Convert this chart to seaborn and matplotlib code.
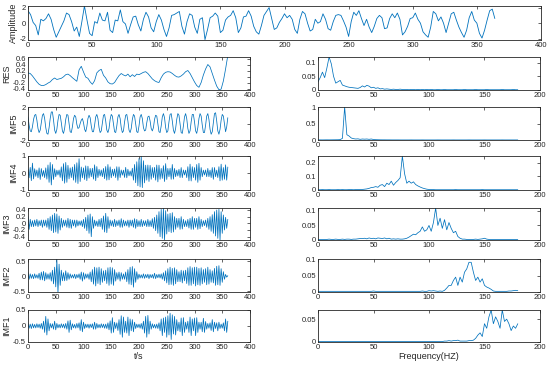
import numpy as np
import seaborn as sns
import matplotlib
matplotlib.use("Agg")
import matplotlib.pyplot as plt
from matplotlib.ticker import FuncFormatter

# ---- data ----
# raw signal, one sample every 2 s
amplitude = [
    1.6, 1.1, 0.1, -0.3, -1.5, 0.5, 0.3, 0.6, 1.2, 0.5,
    -0.8, -1.8, -1.1, -0.4, 0.3, 1.3, 1.1, 0.2, -1.0, -0.5,
    -1.7, 0.2, 2.2, 0.4, -1.3, -1.6, 0.2, 0.0, 1.3, 0.4,
    0.3, 1.4, -0.9, -1.2, 0.4, 0.3, 1.7, 0.2, -0.1, -1.3,
    -0.2, 0.8, 0.9, -0.2, -1.0, 0.5, 1.4, 0.8, -0.6, -1.1,
    0.2, 1.1, 0.4, -0.8, -1.7, -0.6, 1.0, 1.1, 1.3, 1.5,
    -0.4, -1.4, 0.2, 1.2, 1.0, -0.5, -1.3, 0.5, 0.7, -2.1,
    -0.8, 0.7, 0.9, 1.3, 0.9, -1.2, -0.9, 0.4, 0.8, 1.0,
    1.6, 0.7, -1.2, -0.6, 0.8, 0.9, 1.6, 0.9, -0.4, -1.1,
    -1.4, -0.3, 1.0, 1.5, 2.0, 0.6, -0.8, -0.6, 0.1, 0.6,
    1.2, 0.7, 1.0, 0.5, -0.8, -1.3, 0.5, 1.5, 1.2, 0.0,
    -1.0, -0.8, 0.5, 0.0, 0.2, 1.2, 0.5, -0.7, -0.9, 0.2,
    1.0, 1.1, 1.0, 0.3, -0.5, -1.7, 0.2, 1.4, 1.0, 1.6,
    0.6, -0.3, 0.5, -0.5, -1.2, -0.4, 0.6, 1.0, 0.7, -0.7,
    -0.6, 0.6, 1.2, 0.7, 1.3, 0.5, -1.5, -1.1, -0.4, 0.6,
    0.7, 1.3, 0.5, 0.0, -1.1, -1.5, -1.8, -0.5, 1.5, 1.2,
    0.3, 0.8, 0.0, -1.2, 0.0, 1.2, 1.4, 0.4, -0.5, -1.2,
    -1.8, -0.9, 0.7, 1.5, 0.4, 0.0, -1.3, -1.9, -0.9, 0.4,
    1.6, 1.8, 0.6,
]

# residual, one sample every 4 s
res = [
    0.12, 0.10, 0.02, -0.08, -0.18, -0.26, -0.30, -0.30, -0.27, -0.22,
    -0.18, -0.10, -0.05, -0.10, -0.08, -0.06, -0.01, 0.06, 0.08, 0.03,
    -0.04, -0.10, -0.16, 0.22, 0.34, 0.15, -0.02, -0.06, -0.18, -0.26,
    -0.14, 0.12, 0.20, 0.24, 0.04, -0.05, -0.18, -0.24, -0.25, -0.20,
    -0.08, 0.03, 0.10, 0.05, 0.02, 0.08, -0.01, 0.06, 0.00, 0.08,
    0.06, 0.10, 0.14, 0.16, 0.10, 0.01, -0.08, -0.14, -0.18, -0.20,
    -0.04, 0.08, 0.14, 0.16, 0.15, 0.10, 0.04, -0.01, -0.02, 0.02,
    0.08, 0.16, 0.20, 0.10, -0.04, -0.18, -0.30, -0.36, -0.20, 0.05,
    0.25, 0.40, 0.32, 0.10, -0.12, -0.32, -0.44, -0.42, -0.15, 0.25,
    0.70,
]

# IMFs, one sample every 2 s
imf5 = [
    0.8, -0.2, -0.9, -1.0, -0.4, 0.5, 1.0, 1.1, 0.4, -0.6,
    -1.1, -0.8, 0.1, 1.0, 1.2, 0.6, -0.5, -1.2, -1.3, -0.5,
    0.6, 1.4, 1.4, 0.4, -0.8, -1.2, -0.7, 0.4, 1.1, 1.0,
    0.1, -0.9, -1.2, -0.6, 0.5, 1.1, 1.0, 0.0, -1.0, -1.1,
    -0.4, 0.6, 1.0, 0.8, -0.1, -0.6, -0.5, 0.0, 0.4, 0.6,
    0.1, -0.7, -1.0, -0.4, 0.6, 1.0, 0.7, -0.3, -1.0, -1.0,
    -0.2, 0.8, 1.1, 0.6, -0.5, -1.1, -0.9, 0.1, 1.0, 1.1,
    0.3, -0.8, -1.1, -0.6, 0.5, 1.1, 0.9, -0.1, -1.0, -1.1,
    -0.3, 0.8, 1.1, 0.6, -0.5, -1.1, -0.9, 0.2, 1.0, 1.1,
    0.3, -0.8, -1.1, -0.6, 0.5, 1.1, 0.9, -0.1, -1.0, -1.1,
    -0.3, 0.8, 1.1, 0.6, -0.5, -0.9, -0.8, 0.1, 0.8, 0.9,
    0.3, -0.6, -0.9, -0.5, 0.5, 1.0, 0.9, -0.1, -1.0, -1.1,
    -0.3, 0.8, 1.2, 0.7, -0.5, -1.1, -0.9, 0.2, 1.1, 1.2,
    0.3, -0.8, -1.2, -0.6, 0.5, 1.2, 1.0, -0.1, -1.1, -1.2,
    -0.3, 0.8, 1.2, 0.6, -0.6, -1.2, -0.9, 0.2, 1.1, 1.1,
    0.2, -0.9, -1.2, -0.5, 0.6, 1.2, 0.9, -0.2, -1.1, -1.1,
    -0.2, 0.9, 1.2, 0.5, -0.7, -1.3, -1.0, 0.1, 1.2, 1.3,
    0.3, -0.9, -1.3, -0.7, 0.4, 1.1, 0.9, -0.1, -1.0, -0.4,
    0.7,
]

imf4 = [
    0.22, -0.28, 0.33, -0.45, 0.58, -0.35,
    0.25, -0.2, 0.18, -0.28, 0.3, -0.38, 0.26, -0.2, 0.15, -0.27,
    0.3, -0.36, 0.47, -0.55, 0.62, -0.7, 0.5, -0.38, 0.25, -0.22,
    0.17, -0.12, 0.18, -0.26, 0.36, -0.46, 0.55, -0.6, 0.62, -0.55,
    0.45, -0.35, 0.3, -0.27, 0.35, -0.42, 0.5, -0.55, 0.6, -0.62,
    0.84, -0.5, 0.35, -0.28, 0.3, -0.38, 0.42, -0.45, 0.4, -0.3,
    0.27, -0.22, 0.28, -0.36, 0.48, -0.45, 0.38, -0.27, 0.22, -0.18,
    0.18, -0.22, 0.27, -0.33, 0.38, -0.42, 0.5, -0.4, 0.36, -0.28,
    0.22, -0.18, 0.24, -0.27, 0.37, -0.43, 0.36, -0.27, 0.18, -0.13,
    0.17, -0.26, 0.33, -0.28, 0.22, -0.17, 0.12, -0.18, 0.28, -0.42,
    0.5, -0.57, 0.66, -0.75, 0.85, -0.82, 1.0, -0.86, 0.72, -0.58,
    0.46, -0.42, 0.47, -0.5, 0.45, -0.37, 0.32, -0.27, 0.33, -0.42,
    0.47, -0.52, 0.46, -0.37, 0.27, -0.32, 0.43, -0.5, 0.55, -0.38,
    0.27, -0.22, 0.28, -0.37, 0.5, -0.36, 0.27, -0.22, 0.17, -0.18,
    0.22, -0.27, 0.32, -0.27, 0.18, -0.12, 0.17, -0.27, 0.37, -0.46,
    0.52, -0.47, 0.37, -0.27, 0.32, -0.42, 0.5, -0.55, 0.57, -0.42,
    0.32, -0.22, 0.17, -0.12, 0.18, -0.22, 0.27, -0.22, 0.17, -0.27,
    0.32, -0.37, 0.32, -0.22, 0.17, -0.27, 0.37, -0.46, 0.52, -0.42,
    0.32, -0.37, 0.48, -0.42, 0.35,
]

imf3 = [
    0.2, -0.18, 0.12, -0.1, 0.08, -0.1,
    0.1, -0.08, 0.12, -0.1, 0.08, -0.07, 0.1, -0.12, 0.1, -0.08,
    0.1, -0.12, 0.15, -0.18, 0.2, -0.22, 0.25, -0.28, 0.3, -0.26,
    0.28, -0.3, 0.22, -0.2, 0.15, -0.12, 0.1, -0.08, 0.1, -0.12,
    0.15, -0.14, 0.12, -0.15, 0.1, -0.08, 0.1, -0.12, 0.1, -0.08,
    0.07, -0.06, 0.08, -0.1, 0.12, -0.15, 0.18, -0.22, 0.25, -0.3,
    0.28, -0.4, 0.2, -0.15, 0.1, -0.08, 0.07, -0.1, 0.12, -0.1,
    0.15, -0.18, 0.22, -0.26, 0.3, -0.28, 0.2, -0.15, 0.1, -0.08,
    0.08, -0.1, 0.12, -0.1, 0.08, -0.07, 0.1, -0.12, 0.14, -0.12,
    0.1, -0.08, 0.07, -0.08, 0.1, -0.12, 0.1, -0.08, 0.1, -0.12,
    0.14, -0.15, 0.12, -0.1, 0.08, -0.1, 0.12, -0.1, 0.08, -0.07,
    0.08, -0.1, 0.12, -0.1, 0.08, -0.1, 0.14, -0.15, 0.18, -0.22,
    0.25, -0.3, 0.35, -0.4, 0.42, -0.45, 0.45, -0.5, 0.38, -0.32,
    0.28, -0.25, 0.3, -0.28, 0.32, -0.26, 0.2, -0.18, 0.15, -0.12,
    0.15, -0.18, 0.2, -0.17, 0.12, -0.1, 0.08, -0.1, 0.12, -0.14,
    0.15, -0.18, 0.2, -0.18, 0.15, -0.12, 0.15, -0.18, 0.2, -0.16,
    0.12, -0.1, 0.08, -0.07, 0.1, -0.12, 0.15, -0.18, 0.2, -0.24,
    0.26, -0.3, 0.35, -0.38, 0.4, -0.45, 0.42, -0.5, 0.35, -0.3,
    0.25, -0.2, 0.18, -0.15, 0.12,
]

imf2 = [
    0.12, -0.1, 0.08, -0.07, 0.06, -0.08,
    0.08, -0.06, 0.05, -0.07, 0.1, -0.12, 0.14, -0.12, 0.16, -0.15,
    0.12, -0.1, 0.08, -0.1, 0.12, -0.16, 0.2, -0.25, 0.3, -0.35,
    0.56, -0.55, 0.4, -0.3, 0.2, -0.15, 0.12, -0.15, 0.18, -0.14,
    0.12, -0.1, 0.08, -0.06, 0.05, -0.06, 0.07, -0.08, 0.06, -0.05,
    0.08, -0.1, 0.14, -0.16, 0.12, -0.1, 0.08, -0.06, 0.08, -0.1,
    0.14, -0.18, 0.22, -0.26, 0.3, -0.32, 0.28, -0.24, 0.3, -0.28,
    0.25, -0.2, 0.18, -0.15, 0.2, -0.24, 0.28, -0.3, 0.3, -0.26,
    0.28, -0.3, 0.22, -0.16, 0.12, -0.1, 0.14, -0.16, 0.12, -0.1,
    0.08, -0.1, 0.14, -0.18, 0.22, -0.26, 0.3, -0.28, 0.32, -0.36,
    0.25, -0.2, 0.15, -0.1, 0.07, -0.06, 0.05, -0.06, 0.08, -0.07,
    0.06, -0.05, 0.07, -0.08, 0.06, -0.05, 0.06, -0.07, 0.1, -0.08,
    0.06, -0.05, 0.07, -0.06, 0.08, -0.1, 0.12, -0.15, 0.18, -0.22,
    0.25, -0.28, 0.3, -0.27, 0.26, -0.3, 0.28, -0.25, 0.22, -0.18,
    0.15, -0.18, 0.2, -0.22, 0.18, -0.15, 0.2, -0.24, 0.28, -0.3,
    0.32, -0.3, 0.28, -0.25, 0.3, -0.32, 0.3, -0.28, 0.26, -0.3,
    0.28, -0.25, 0.22, -0.2, 0.25, -0.28, 0.3, -0.26, 0.22, -0.2,
    0.18, -0.22, 0.26, -0.3, 0.33, -0.28, 0.35, -0.3, 0.25, -0.2,
    0.15, -0.1, 0.06, -0.03, 0.02,
]

imf1 = [
    0.08, -0.07, 0.06, -0.08, 0.07, -0.06,
    0.05, -0.06, 0.07, -0.05, 0.06, -0.07, 0.08, -0.1, 0.15, -0.2,
    0.3, -0.28, 0.22, -0.15, 0.08, -0.06, 0.07, -0.1, 0.15, -0.12,
    0.08, -0.06, 0.05, -0.06, 0.07, -0.05, 0.06, -0.07, 0.08, -0.1,
    0.16, -0.2, 0.18, -0.12, 0.07, -0.06, 0.05, -0.07, 0.08, -0.06,
    0.1, -0.14, 0.2, -0.18, 0.12, -0.08, 0.06, -0.05, 0.06, -0.07,
    0.06, -0.05, 0.07, -0.1, 0.12, -0.1, 0.08, -0.06, 0.05, -0.06,
    0.07, -0.05, 0.06, -0.07, 0.06, -0.08, 0.1, -0.12, 0.16, -0.22,
    0.26, -0.2, 0.12, -0.08, 0.1, -0.14, 0.2, -0.26, 0.32, -0.35,
    0.28, -0.2, 0.15, -0.22, 0.28, -0.3, 0.22, -0.15, 0.2, -0.18,
    0.12, -0.08, 0.06, -0.05, 0.06, -0.07, 0.08, -0.1, 0.15, -0.22,
    0.3, -0.35, 0.33, -0.25, 0.15, -0.1, 0.07, -0.06, 0.05, -0.07,
    0.06, -0.08, 0.1, -0.15, 0.22, -0.3, 0.25, -0.2, 0.28, -0.35,
    0.32, -0.28, 0.4, -0.42, 0.35, -0.25, 0.3, -0.28, 0.2, -0.15,
    0.12, -0.18, 0.25, -0.3, 0.26, -0.2, 0.12, -0.1, 0.15, -0.2,
    0.28, -0.3, 0.22, -0.15, 0.25, -0.3, 0.26, -0.2, 0.12, -0.1,
    0.12, -0.18, 0.24, -0.2, 0.14, -0.1, 0.08, -0.07, 0.1, -0.14,
    0.2, -0.18, 0.12, -0.08, 0.1, -0.15, 0.12, -0.08, 0.06, -0.07,
    0.1, -0.15, 0.22, -0.2, 0.15,
]

# spectra, one value every 2 Hz from 0 to 180
spec_res = [
    0.03, 0.045, 0.065, 0.045, 0.08, 0.12, 0.095, 0.05, 0.025, 0.03,
    0.035, 0.018, 0.015, 0.012, 0.01, 0.009, 0.008, 0.007, 0.006, 0.009,
    0.015, 0.011, 0.017, 0.014, 0.008, 0.01, 0.006, 0.008, 0.004, 0.005,
    0.003, 0.004, 0.003, 0.002, 0.003, 0.002, 0.002, 0.003, 0.002, 0.002,
    0.002, 0.001, 0.002, 0.002, 0.001, 0.002, 0.001, 0.002, 0.001, 0.002,
    0.001, 0.002, 0.001, 0.001, 0.002, 0.001, 0.001, 0.002, 0.001, 0.001,
    0.001, 0.001, 0.002, 0.001, 0.001, 0.001, 0.002, 0.001, 0.001, 0.001,
    0.001, 0.002, 0.001, 0.001, 0.001, 0.001, 0.002, 0.001, 0.001, 0.001,
    0.001, 0.001, 0.001, 0.002, 0.001, 0.001, 0.001, 0.001, 0.002, 0.001,
    0.001,
]

spec_imf5 = [
    0.003, 0.004, 0.003, 0.004, 0.005, 0.004, 0.005, 0.006, 0.007, 0.008,
    0.012, 0.05, 1.0, 0.16, 0.12, 0.06, 0.04, 0.03, 0.035, 0.02,
    0.03, 0.025, 0.03, 0.02, 0.03, 0.015, 0.01, 0.008, 0.006, 0.005,
    0.005, 0.004, 0.004, 0.003, 0.003, 0.003, 0.003, 0.002, 0.002, 0.002,
    0.002, 0.002, 0.003, 0.002, 0.002, 0.002, 0.002, 0.003, 0.002, 0.002,
    0.002, 0.002, 0.002, 0.002, 0.003, 0.002, 0.002, 0.002, 0.002, 0.002,
    0.002, 0.003, 0.002, 0.002, 0.002, 0.002, 0.002, 0.002, 0.003, 0.002,
    0.002, 0.002, 0.002, 0.002, 0.002, 0.003, 0.002, 0.002, 0.002, 0.002,
    0.002, 0.002, 0.002, 0.003, 0.002, 0.002, 0.002, 0.002, 0.002, 0.002,
    0.002,
]

spec_imf4 = [
    0.002, 0.002, 0.003, 0.002, 0.002, 0.003, 0.002, 0.002, 0.002, 0.003,
    0.002, 0.003, 0.002, 0.002, 0.003, 0.003, 0.002, 0.003, 0.003, 0.004,
    0.004, 0.006, 0.008, 0.012, 0.018, 0.02, 0.025, 0.02, 0.035, 0.04,
    0.025, 0.05, 0.04, 0.065, 0.035, 0.055, 0.07, 0.09, 0.25, 0.12,
    0.05, 0.065, 0.05, 0.06, 0.04, 0.03, 0.022, 0.015, 0.01, 0.006,
    0.004, 0.003, 0.003, 0.002, 0.002, 0.002, 0.002, 0.002, 0.002, 0.002,
    0.002, 0.002, 0.003, 0.002, 0.002, 0.002, 0.002, 0.002, 0.002, 0.002,
    0.002, 0.002, 0.002, 0.002, 0.003, 0.002, 0.002, 0.002, 0.002, 0.002,
    0.002, 0.002, 0.002, 0.002, 0.002, 0.002, 0.002, 0.002, 0.002, 0.002,
    0.002,
]

spec_imf3 = [
    0.002, 0.002, 0.002, 0.002, 0.002, 0.003, 0.002, 0.002, 0.003, 0.002,
    0.002, 0.003, 0.002, 0.003, 0.003, 0.002, 0.003, 0.003, 0.004, 0.005,
    0.005, 0.006, 0.004, 0.007, 0.005, 0.006, 0.004, 0.007, 0.006, 0.005,
    0.007, 0.004, 0.006, 0.003, 0.004, 0.003, 0.004, 0.003, 0.003, 0.004,
    0.006, 0.01, 0.015, 0.02, 0.018, 0.025, 0.03, 0.045, 0.03, 0.035,
    0.05, 0.03, 0.06, 0.11, 0.05, 0.075, 0.04, 0.07, 0.035, 0.06,
    0.04, 0.025, 0.03, 0.012, 0.006, 0.003, 0.003, 0.002, 0.002, 0.002,
    0.002, 0.003, 0.002, 0.003, 0.004, 0.006, 0.003, 0.002, 0.002, 0.002,
    0.002, 0.002, 0.002, 0.002, 0.002, 0.002, 0.002, 0.002, 0.002, 0.002,
    0.002,
]

spec_imf2 = [
    0.002, 0.002, 0.002, 0.002, 0.002, 0.002, 0.002, 0.002, 0.002, 0.002,
    0.002, 0.002, 0.002, 0.002, 0.002, 0.002, 0.002, 0.002, 0.002, 0.002,
    0.002, 0.002, 0.002, 0.002, 0.002, 0.003, 0.002, 0.002, 0.002, 0.002,
    0.002, 0.002, 0.002, 0.002, 0.002, 0.002, 0.002, 0.002, 0.002, 0.002,
    0.002, 0.002, 0.002, 0.002, 0.002, 0.002, 0.002, 0.003, 0.002, 0.002,
    0.004, 0.003, 0.004, 0.003, 0.002, 0.003, 0.002, 0.005, 0.012, 0.02,
    0.02, 0.035, 0.045, 0.02, 0.045, 0.03, 0.06, 0.07, 0.09, 0.09,
    0.06, 0.035, 0.045, 0.03, 0.04, 0.02, 0.015, 0.012, 0.008, 0.003,
    0.002, 0.002, 0.002, 0.002, 0.002, 0.002, 0.003, 0.003, 0.004, 0.005,
    0.004,
]

spec_imf1 = [
    0.001, 0.001, 0.001, 0.001, 0.001, 0.001, 0.001, 0.001, 0.001, 0.001,
    0.001, 0.001, 0.001, 0.001, 0.001, 0.001, 0.001, 0.001, 0.001, 0.001,
    0.001, 0.001, 0.001, 0.001, 0.001, 0.001, 0.001, 0.001, 0.001, 0.001,
    0.001, 0.001, 0.001, 0.001, 0.001, 0.001, 0.001, 0.001, 0.001, 0.001,
    0.001, 0.001, 0.001, 0.001, 0.001, 0.001, 0.001, 0.001, 0.001, 0.001,
    0.001, 0.001, 0.001, 0.001, 0.001, 0.001, 0.001, 0.002, 0.002, 0.003,
    0.002, 0.003, 0.003, 0.004, 0.002, 0.002, 0.002, 0.002, 0.003, 0.003,
    0.004, 0.008, 0.015, 0.02, 0.012, 0.04, 0.03, 0.055, 0.07, 0.04,
    0.055, 0.045, 0.03, 0.07, 0.045, 0.05, 0.04, 0.025, 0.035, 0.03,
    0.04,
]

imf_names = ["RES", "IMF5", "IMF4", "IMF3", "IMF2", "IMF1"]
imf_series = [res, imf5, imf4, imf3, imf2, imf1]
imf_steps = [4, 2, 2, 2, 2, 2]
spectra = [spec_res, spec_imf5, spec_imf4, spec_imf3, spec_imf2, spec_imf1]

# axis settings per row (left ylim / yticks, right ylim / yticks)
left_ylims = [(-0.45, 0.65), (-2, 2), (-1, 1), (-0.5, 0.46), (-0.52, 0.57), (-0.5, 0.5)]
left_yticks = [[-0.4, -0.2, 0, 0.2, 0.4, 0.6], [-2, 0, 2], [-1, 0, 1],
               [-0.4, -0.2, 0, 0.2, 0.4], [-0.5, 0, 0.5], [-0.5, 0, 0.5]]
right_ylims = [(0, 0.12), (0, 1), (0, 0.25), (0, 0.11), (0, 0.1), (0, 0.07)]
right_yticks = [[0, 0.05, 0.1], [0, 0.5, 1], [0, 0.1, 0.2], [0, 0.05, 0.1],
                [0, 0.05, 0.1], [0, 0.05]]

LINE = "#0072BD"
W, H = 550, 367

sns.set_style("white")
plt.rcParams['font.family'] = ['Liberation Sans', 'DejaVu Sans']

fmt = FuncFormatter(lambda v, _: f"{v:g}")


def style_axis(ax, xlim, xticks, ylim, yticks, ylabel=""):
    ax.set_xlim(xlim)
    ax.set_xticks(xticks)
    ax.set_ylim(ylim)
    ax.set_yticks(yticks)
    ax.xaxis.set_major_formatter(fmt)
    ax.yaxis.set_major_formatter(fmt)
    ax.tick_params(direction='in', length=2, width=0.5, top=True, right=True,
                   labelsize=5.5, pad=1.5, colors='#262626')
    for s in ax.spines.values():
        s.set_linewidth(0.6)
        s.set_color('#262626')
    ax.set_xlabel("")
    ax.set_ylabel(ylabel, fontsize=6.5, labelpad=1)


def px_axes(fig, left, top, right, bottom):
    return fig.add_axes([left / W, 1 - bottom / H, (right - left) / W, (bottom - top) / H])


fig = plt.figure(figsize=(W / 100, H / 100), dpi=100)

# top: raw signal
ax = px_axes(fig, 28, 6, 541, 40)
t_amp = np.arange(len(amplitude)) * 2
sns.lineplot(x=t_amp, y=amplitude, ax=ax, color=LINE, linewidth=0.6)
style_axis(ax, (0, 400), np.arange(0, 401, 50), (-2.15, 2.2), [-2, 0, 2], "Amplitude")

rows = [(57, 90), (107, 140), (156, 190), (208, 240), (259, 292), (310, 342)]
for i, (top, bottom) in enumerate(rows):
    axl = px_axes(fig, 28, top, 250, bottom)
    vals = imf_series[i]
    t = np.arange(len(vals)) * imf_steps[i]
    sns.lineplot(x=t, y=vals, ax=axl, color=LINE, linewidth=0.55)
    style_axis(axl, (0, 400), np.arange(0, 401, 50), left_ylims[i], left_yticks[i], imf_names[i])

    axr = px_axes(fig, 318, top, 540, bottom)
    spec = spectra[i]
    f = np.arange(len(spec)) * 2
    sns.lineplot(x=f, y=spec, ax=axr, color=LINE, linewidth=0.55)
    style_axis(axr, (0, 200), np.arange(0, 201, 50), right_ylims[i], right_yticks[i])

    if i == len(rows) - 1:
        axl.set_xlabel("t/s", fontsize=6.5, labelpad=1)
        axr.set_xlabel("Frequency(HZ)", fontsize=6.5, labelpad=1)

fig.savefig("out.png", dpi=100)
